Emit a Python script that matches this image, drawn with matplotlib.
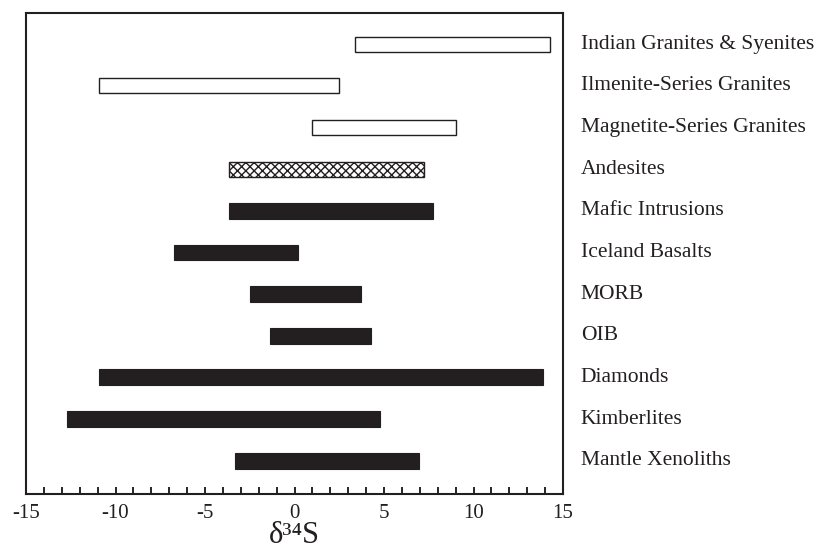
import matplotlib
matplotlib.use('Agg')
import matplotlib.pyplot as plt
import numpy as np

plt.rcParams['font.family'] = ['Liberation Serif', 'DejaVu Serif']

# rock types, top to bottom
labels = ['Indian Granites & Syenites', 'Ilmenite-Series Granites', 'Magnetite-Series Granites',
          'Andesites', 'Mafic Intrusions', 'Iceland Basalts', 'MORB', 'OIB',
          'Diamonds', 'Kimberlites', 'Mantle Xenoliths']
lo = [3.4, -10.9, 1.0, -3.65, -3.65, -6.75, -2.5, -1.35, -10.9, -12.7, -3.3]
hi = [14.3, 2.5, 9.0, 7.25, 7.75, 0.2, 3.7, 4.25, 13.9, 4.75, 6.95]
style = ['open', 'open', 'open', 'hatch', 'solid', 'solid', 'solid', 'solid', 'solid', 'solid', 'solid']

fig = plt.figure(figsize=(8.22, 5.54), dpi=100)
ax = fig.add_axes([26/822, 60/554, 537/822, 481/554])

n = len(labels)
ypos = np.arange(n)[::-1]
for y, a, b, s in zip(ypos, lo, hi, style):
    if s == 'solid':
        ax.barh(y, b - a, left=a, height=0.38, color='#231f20', edgecolor='#231f20', lw=0.8)
    elif s == 'hatch':
        ax.barh(y, b - a, left=a, height=0.36, color='white', edgecolor='#231f20', hatch='xxxx', lw=1.0)
    else:
        ax.barh(y, b - a, left=a, height=0.36, color='white', edgecolor='#231f20', lw=1.0)

ax.set_xlim(-15, 15)
ax.set_ylim(-0.8, n - 0.25)
ax.set_yticks([])
ax.set_xticks(np.arange(-15, 16, 5))
ax.set_xticklabels(['-15', '-10', '-5', '0', '5', '10', '15'], fontsize=15, color='#231f20')
ax.set_xticks(np.arange(-15, 16, 1), minor=True)
ax.tick_params(axis='x', which='both', direction='in', length=5, width=1.2, pad=7)
for sp in ax.spines.values():
    sp.set_linewidth(1.5)
    sp.set_color('#231f20')

for y, lab in zip(ypos, labels):
    ax.text(16.0, y, lab, fontsize=15.5, va='center', ha='left', color='#231f20')

ax.set_xlabel('δ³⁴S', fontsize=22, labelpad=-1, color='#231f20')

fig.savefig('out.png', dpi=100)
